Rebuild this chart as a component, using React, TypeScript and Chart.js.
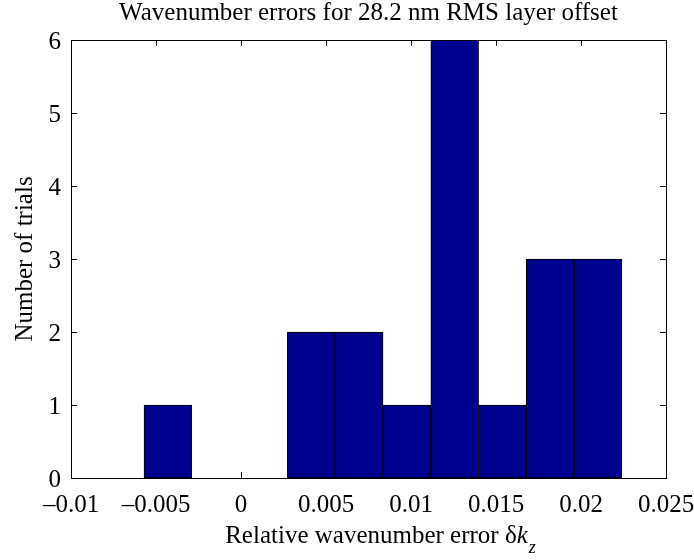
import React, { useEffect, useRef } from "react";
import { Chart, registerables } from "chart.js";

Chart.register(...registerables);

// ---- Data ----
const binCenters = [-0.0043, -0.00149, 0.00132, 0.00413, 0.00695, 0.00976, 0.01257, 0.01538, 0.01819, 0.021];
const trialCounts = [1, 0, 0, 2, 2, 1, 6, 1, 3, 3];
const xTickValues = [-0.01, -0.005, 0, 0.005, 0.01, 0.015, 0.02, 0.025];
const xTickLabels = ["\u20130.01", "\u20130.005", "0", "0.005", "0.01", "0.015", "0.02", "0.025"];
const yTickValues = [0, 1, 2, 3, 4, 5, 6];
const yTickLabels = ["0", "1", "2", "3", "4", "5", "6"];
const chartTitle = "Wavenumber errors for 28.2 nm RMS layer offset";
const yTitle = "Number of trials";
const xTitleMain = "Relative wavenumber error \u03b4";
const xTitleItalic = "k";
const xTitleSub = "z";

const FONT = '"Liberation Serif", "Times New Roman", serif';
const FS = 25;

const matlabAxes = {
  id: "matlabAxes",
  beforeDatasetsDraw(chart: any) {
    const { ctx, chartArea } = chart;
    const { left, right, top, bottom } = chartArea;
    const xs = chart.scales.x;
    const ys = chart.scales.y;
    const tl = 6;
    ctx.save();
    ctx.strokeStyle = "#000";
    ctx.lineWidth = 1;
    ctx.beginPath();
    xTickValues.forEach((v) => {
      const px = Math.round(xs.getPixelForValue(v)) + 0.5;
      ctx.moveTo(px, bottom);
      ctx.lineTo(px, bottom - tl);
      ctx.moveTo(px, top);
      ctx.lineTo(px, top + tl);
    });
    yTickValues.forEach((v) => {
      const py = Math.round(ys.getPixelForValue(v)) + 0.5;
      ctx.moveTo(left, py);
      ctx.lineTo(left + tl, py);
      ctx.moveTo(right, py);
      ctx.lineTo(right - tl, py);
    });
    ctx.stroke();
    ctx.restore();
  },
  afterDatasetsDraw(chart: any) {
    const { ctx, chartArea } = chart;
    const { left, right, top, bottom } = chartArea;
    const xs = chart.scales.x;
    const ys = chart.scales.y;
    ctx.save();
    ctx.strokeStyle = "#000";
    ctx.lineWidth = 1;
    ctx.strokeRect(Math.round(left) + 0.5, Math.round(top) + 0.5, Math.round(right - left), Math.round(bottom - top));

    ctx.fillStyle = "#000";
    ctx.font = `${FS}px ${FONT}`;
    ctx.textBaseline = "alphabetic";
    // x tick labels
    ctx.textAlign = "center";
    xTickValues.forEach((v, i) => {
      ctx.fillText(xTickLabels[i], xs.getPixelForValue(v), bottom + 34);
    });
    // y tick labels
    ctx.textAlign = "right";
    yTickValues.forEach((v, i) => {
      ctx.fillText(yTickLabels[i], left - 10, ys.getPixelForValue(v) + 8.5);
    });
    // title
    ctx.textAlign = "center";
    ctx.fillText(chartTitle, (left + right) / 2, 20);
    // y title
    ctx.save();
    ctx.translate(32, (top + bottom) / 2);
    ctx.rotate(-Math.PI / 2);
    ctx.textAlign = "center";
    ctx.fillText(yTitle, 0, 0);
    ctx.restore();
    // x title with italic k and subscript z
    ctx.textAlign = "left";
    const mainFont = `${FS}px ${FONT}`;
    const italFont = `italic ${FS}px ${FONT}`;
    const subFont = `italic ${Math.round(FS * 0.72)}px ${FONT}`;
    ctx.font = mainFont;
    const w1 = ctx.measureText(xTitleMain).width;
    ctx.font = italFont;
    const w2 = ctx.measureText(xTitleItalic).width;
    ctx.font = subFont;
    const w3 = ctx.measureText(xTitleSub).width;
    const total = w1 + w2 + 1 + w3;
    const cx = (left + right) / 2 + 12;
    let x0 = cx - total / 2;
    const base = bottom + 65;
    ctx.font = mainFont;
    ctx.fillText(xTitleMain, x0, base);
    x0 += w1;
    ctx.font = italFont;
    ctx.fillText(xTitleItalic, x0, base);
    x0 += w2 + 1;
    ctx.font = subFont;
    ctx.fillText(xTitleSub, x0, base + 10);
    ctx.restore();
  },
};

export default function App() {
  const canvasRef = useRef<HTMLCanvasElement | null>(null);

  useEffect(() => {
    const canvas = canvasRef.current;
    if (!canvas) return;
    const chart = new Chart(canvas, {
      type: "bar",
      data: {
        datasets: [
          {
            data: binCenters.map((x, i) => ({ x, y: trialCounts[i] })),
            backgroundColor: "#00008F",
            borderColor: "#000000",
            borderWidth: 1,
            borderSkipped: false,
            barPercentage: 1,
            categoryPercentage: 1,
          } as any,
        ],
      },
      options: {
        responsive: false,
        animation: false,
        devicePixelRatio: 1,
        layout: { padding: { left: 71, top: 40, right: 28, bottom: 82 } },
        plugins: {
          legend: { display: false },
          tooltip: { enabled: false },
          title: { display: false },
        },
        scales: {
          x: {
            type: "linear",
            display: false,
            min: -0.01,
            max: 0.025,
            offset: false,
            ticks: { stepSize: 0.005 },
          },
          y: {
            type: "linear",
            display: false,
            min: 0,
            max: 6,
            ticks: { stepSize: 1 },
          },
        },
      } as any,
      plugins: [matlabAxes],
    });
    return () => chart.destroy();
  }, []);

  return (
    <div style={{ position: "absolute", left: 0, top: 0, width: 694, height: 560, background: "#fff" }}>
      <canvas ref={canvasRef} width={694} height={560} style={{ width: 694, height: 560, display: "block" }} />
    </div>
  );
}
